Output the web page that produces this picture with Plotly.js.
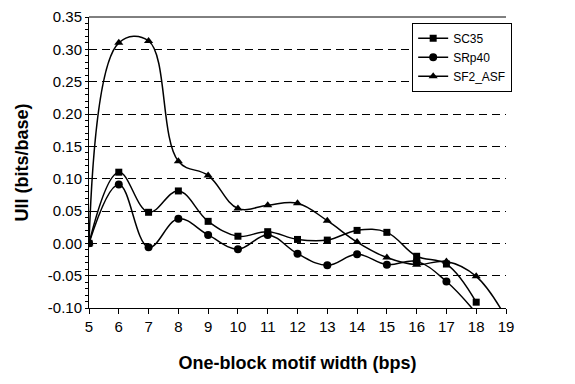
<!DOCTYPE html>
<html>
<head>
<meta charset="utf-8">
<script src="https://cdn.plot.ly/plotly-3.0.1.min.js"></script>
<style>html,body{margin:0;padding:0;background:#fff;}#chart{width:575px;height:384px;}</style>
</head>
<body>
<div id="chart"></div>
<script>
const widths = [5, 6, 7, 8, 9, 10, 11, 12, 13, 14, 15, 16, 17, 18, 19];
const sc35   = [0, 0.110, 0.048, 0.081, 0.034, 0.011, 0.018, 0.006, 0.005, 0.020, 0.017, -0.020, -0.032, -0.091, null];
const srp40  = [0, 0.091, -0.006, 0.038, 0.013, -0.009, 0.013, -0.016, -0.034, -0.017, -0.033, -0.028, -0.059, -0.108, null];
const sf2asf = [0, 0.310, 0.313, 0.127, 0.105, 0.054, 0.059, 0.062, 0.035, 0.002, -0.022, -0.033, -0.028, -0.051, -0.115];
const seriesNames = ["SC35", "SRp40", "SF2_ASF"];
const yTicks = [-0.10, -0.05, 0.00, 0.05, 0.10, 0.15, 0.20, 0.25, 0.30, 0.35];
const xTicks = [5, 6, 7, 8, 9, 10, 11, 12, 13, 14, 15, 16, 17, 18, 19];

const font = "Liberation Sans, Arial, sans-serif";
function mk(y, name, symbol, size) {
  return {
    x: widths, y: y, name: name, type: "scatter", mode: "lines+markers",
    connectgaps: false,
    line: {color: "#000", width: 1.5, shape: "spline", smoothing: 1.1},
    marker: {symbol: symbol, size: size, color: "#000"},
    cliponaxis: true
  };
}
const data = [
  mk(sc35, seriesNames[0], "square", 7),
  mk(srp40, seriesNames[1], "circle", 8),
  mk(sf2asf, seriesNames[2], "triangle-up", 8)
];
const layout = {
  width: 575, height: 384,
  margin: {l: 89, r: 69, t: 17, b: 76},
  paper_bgcolor: "#fff", plot_bgcolor: "#fff",
  font: {family: font, color: "#000", size: 15},
  showlegend: true,
  legend: {
    x: 0.775, y: 0.98, xanchor: "left", yanchor: "top",
    bgcolor: "#fff", bordercolor: "#000", borderwidth: 1,
    font: {family: font, size: 12, color: "#000"},
    itemwidth: 30, tracegroupgap: 0
  },
  xaxis: {
    range: [5, 19], tickmode: "array", tickvals: xTicks, ticktext: xTicks.map(String),
    showgrid: false, zeroline: false, showline: true, linecolor: "#000", linewidth: 1,
    ticks: "outside", ticklen: 5, tickcolor: "#000",
    tickfont: {family: font, size: 15},
    title: {text: "<b>One-block motif width (bps)</b>", font: {family: font, size: 18}, standoff: 22}
  },
  yaxis: {
    range: [-0.10, 0.35], tickmode: "array", tickvals: yTicks, ticktext: yTicks.map(v => v.toFixed(2)),
    showgrid: true, gridcolor: "#000", gridwidth: 1, griddash: "8px,5px",
    zeroline: false, showline: true, linecolor: "#000", linewidth: 1,
    ticks: "outside", ticklen: 3, tickcolor: "#000",
    minor: {ticks: "outside", dtick: 0.01, tick0: 0, ticklen: 3, tickcolor: "#000", showgrid: false},
    tickfont: {family: font, size: 15},
    title: {text: "<b>UII (bits/base)</b>", font: {family: font, size: 18}, standoff: 14}
  },
  shapes: [
    {type: "line", xref: "paper", yref: "paper", x0: 0, x1: 1, y0: 1, y1: 1, line: {color: "#000", width: 1}}
  ]
};
Plotly.newPlot("chart", data, layout, {displayModeBar: false, staticPlot: true});
</script>
</body>
</html>
